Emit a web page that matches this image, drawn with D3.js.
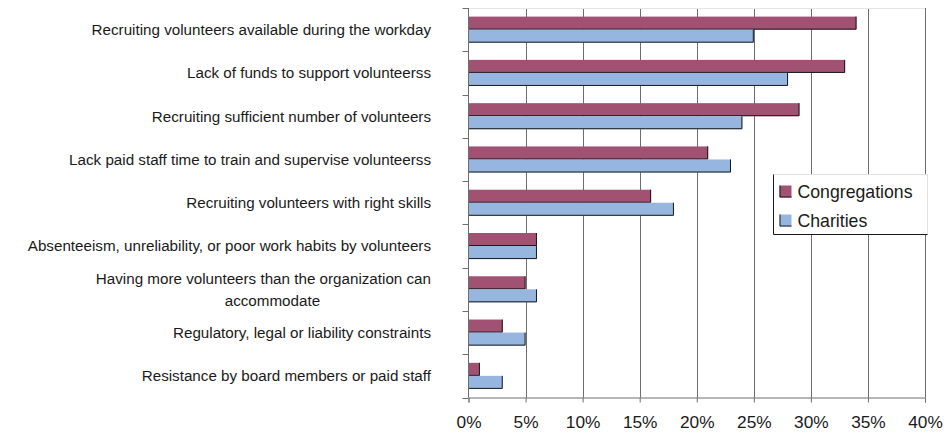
<!DOCTYPE html>
<html>
<head>
<meta charset="utf-8">
<script src="https://cdn.jsdelivr.net/npm/d3@7"></script>
<style>
  html, body { margin: 0; padding: 0; background: #fff; }
  svg { display: block; font-family: "Liberation Sans", Arial, sans-serif; }
</style>
</head>
<body>
<svg id="chart" width="948" height="435"></svg>
<script>
// Barriers to volunteer management, share of organizations reporting each
const categories = [
  "Recruiting volunteers available during the workday",
  "Lack of funds to support volunteerss",
  "Recruiting sufficient number of volunteers",
  "Lack paid staff time to train and supervise volunteerss",
  "Recruiting volunteers with right skills",
  "Absenteeism, unreliability, or poor work habits by volunteers",
  "Having more volunteers than the organization can|accommodate",
  "Regulatory, legal or liability constraints",
  "Resistance by board members or paid staff"
];
const seriesNames = ["Congregations", "Charities"];
const congregations = [0.34, 0.33, 0.29, 0.21, 0.16, 0.06, 0.05, 0.03, 0.01];
const charities     = [0.25, 0.28, 0.24, 0.23, 0.18, 0.06, 0.06, 0.05, 0.03];
const xTicks = [0, 0.05, 0.10, 0.15, 0.20, 0.25, 0.30, 0.35, 0.40];
const colors = ["#A15272", "#96B6E0"];

const svg = d3.select("#chart");
const plotLeft = 468.5, plotRight = 925, plotTop = 8, plotBottom = 397.5;

const x = d3.scaleLinear().domain([0, 0.4]).range([plotLeft, plotRight]);
const y = d3.scaleBand().domain(categories).range([plotTop, plotBottom]).padding(0);
const sub = d3.scaleBand().domain(seriesNames).range([0, y.bandwidth()])
  .paddingInner(0).paddingOuter(0.66);

const rows = categories.map((c, i) => ({ cat: c, vals: [congregations[i], charities[i]] }));

// vertical gridlines
svg.append("g").selectAll("line").data(xTicks.slice(1)).join("line")
  .attr("x1", d => Math.round(x(d)) + 0.5).attr("x2", d => Math.round(x(d)) + 0.5)
  .attr("y1", plotTop).attr("y2", plotBottom)
  .attr("stroke", "#6e6e6e").attr("stroke-width", 1);

// faint plot frame top
svg.append("line").attr("x1", plotLeft).attr("x2", plotRight)
  .attr("y1", plotTop + 0.5).attr("y2", plotTop + 0.5)
  .attr("stroke", "#e6e6e6");

// bars
const groups = svg.append("g").selectAll("g").data(rows).join("g")
  .attr("transform", d => `translate(0,${y(d.cat)})`);

groups.each(function(d) {
  const g = d3.select(this);
  seriesNames.forEach((s, j) => {
    const y0 = sub(s), h = sub.bandwidth();
    const x1 = x(d.vals[j]);
    g.append("rect")
      .attr("x", plotLeft).attr("y", y0)
      .attr("width", x1 - plotLeft).attr("height", h)
      .attr("fill", colors[j]);
    // dark edge along the bottom and the end of the bar
    g.append("path")
      .attr("d", `M${plotLeft},${y0 + h - 0.5}H${x1 - 0.5}V${y0}`)
      .attr("fill", "none").attr("stroke", "#1a1a1a").attr("stroke-width", 1);
  });
});

// x axis
const xAxis = d3.axisBottom(x).tickValues(xTicks).tickFormat(d3.format(".0%"))
  .tickSize(5).tickPadding(13);
const gx = svg.append("g").attr("transform", `translate(0,${plotBottom})`).call(xAxis);
gx.select(".domain").attr("stroke", "#6e6e6e");
gx.selectAll(".tick line").attr("stroke", "#6e6e6e");
gx.selectAll(".tick text").attr("font-size", "17.3px").attr("fill", "#1a1a1a")
  .attr("font-family", "Liberation Sans, Arial, sans-serif");

// y axis: line and boundary ticks
svg.append("line").attr("x1", plotLeft).attr("x2", plotLeft)
  .attr("y1", plotTop).attr("y2", plotBottom)
  .attr("stroke", "#6e6e6e");
const boundaries = categories.map(c => y(c)).concat([plotBottom]);
svg.append("g").selectAll("line").data(boundaries).join("line")
  .attr("x1", plotLeft - 6).attr("x2", plotLeft)
  .attr("y1", d => Math.round(d) + 0.5).attr("y2", d => Math.round(d) + 0.5)
  .attr("stroke", "#6e6e6e");

// category labels
const labelX = 431;
const labels = svg.append("g").attr("font-size", "15.2px").attr("fill", "#1a1a1a");
rows.forEach(d => {
  const lines = d.cat.split("|");
  const cy = y(d.cat) + y.bandwidth() / 2;
  const lh = 21.6;
  const t = labels.append("text");
  if (lines.length === 1) {
    t.attr("x", labelX).attr("y", cy).attr("dy", "0.36em").attr("text-anchor", "end").text(lines[0]);
  } else {
    const y0 = cy - lh / 2;
    t.attr("x", labelX).attr("y", y0).attr("dy", "0.36em").attr("text-anchor", "end").text(lines[0]);
    const w = t.node().getComputedTextLength();
    labels.append("text").attr("x", labelX - w / 2 + 9).attr("y", y0 + lh).attr("dy", "0.36em")
      .attr("text-anchor", "middle").text(lines[1]);
  }
});

// legend
const lg = svg.append("g").attr("transform", "translate(773.5,174.5)");
lg.append("rect").attr("width", 154).attr("height", 60).attr("fill", "#fff").attr("stroke", "#e0e0e0");
lg.append("path").attr("d", "M0,0V60H154").attr("fill", "none").attr("stroke", "#1a1a1a");
seriesNames.forEach((s, j) => {
  const row = lg.append("g").attr("transform", `translate(6,${11 + j * 29})`);
  row.append("rect").attr("width", 12).attr("height", 12).attr("fill", colors[j]);
  row.append("path").attr("d", "M0.5,0V11.5H12").attr("fill", "none").attr("stroke", "#1a1a1a");
  row.append("text").attr("x", 18).attr("y", 12).attr("font-size", "17.7px").attr("fill", "#1a1a1a").text(s);
});
</script>
</body>
</html>
